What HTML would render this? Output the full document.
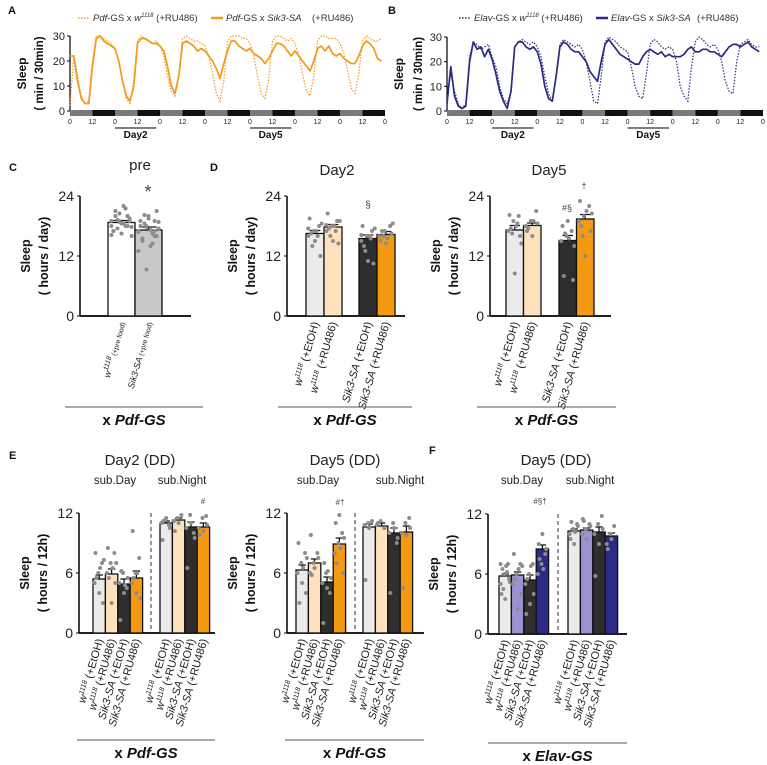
<!DOCTYPE html>
<html><head><meta charset="utf-8"><style>
html,body{margin:0;padding:0;background:#fff;}
svg{display:block;font-family:"Liberation Sans",Arial,sans-serif;}
</style></head><body>
<svg id="fig" width="767" height="765" viewBox="0 0 767 765" xmlns="http://www.w3.org/2000/svg">
<rect width="767" height="765" fill="#fff"/>
</svg>
<script>
// ---------- Panel A/B time series data (2h bins, 7 days) ----------
const hoursPerBin = 2;
const aControl = [2,22,14,6,3,4,20,30,30,29,28, 27,25,20,12,5,3,12,28,30,29,28,27, 28,26,22,14,8,6,14,29,30,29,28,28, 27,26,22,15,7,4,12,28,30,30,30,29, 29,27,22,14,7,5,13,28,30,30,29,28, 29,27,22,15,8,6,14,28,30,30,29,29, 29,27,23,16,9,7,15,28,30,29,28,28,29];
const aSik3 = [22,22,12,5,3,3,18,29,30,28,27, 26,25,20,12,6,4,10,27,29,29,28,27, 27,26,24,18,10,7,14,27,28,27,26,24, 25,24,22,20,17,13,19,24,28,28,26,25, 24,25,23,22,21,19,21,24,27,27,26,24, 22,24,22,20,18,16,20,25,26,24,26,23, 22,23,21,20,19,19,22,26,28,27,25,21,20];
const bControl = [8,15,8,3,1,3,22,28,27,25,26, 27,22,18,10,5,3,8,26,28,29,28,27, 28,26,22,14,7,4,14,27,29,28,27,26, 27,25,20,12,4,3,14,28,30,29,28,26, 25,24,18,10,6,5,15,27,29,28,26,25, 26,25,20,10,6,4,18,28,30,29,27,26, 27,25,20,12,8,7,20,27,28,29,27,26,26];
const bSik3 = [3,18,6,2,1,2,20,28,25,26,22, 25,21,15,8,4,1,8,26,28,28,26,25, 26,24,19,10,5,4,14,26,28,27,25,24, 24,22,20,16,14,12,20,27,29,27,25,23, 22,21,20,19,19,22,24,25,24,23,24,22, 23,22,22,22,23,25,26,24,24,25,25,24, 24,23,22,24,26,27,27,26,27,28,26,25,24];
const tsYTicks = [0,10,20,30];
const tsXTickLabels = ["0","12"];

// ---------- Bar panel data ----------
const cMeans = [18.7,17.2];
const cSem = [0.4,0.6];
const cDots = [[18,19,20,17,18.5,19.5,21,22,16,17.5,18,19,20.5,18,17,16.5,19,20,18.5,17.8,19.2,21.5,16.2,18.8,20],[17,18,16,19,20,21,15,14,17.5,18.5,16.5,13,9.3,17,18,19.5,16,15.5,17.2,18.8,20.2,14.5,16.8,17.8,19]];
const d2Means = [16.5,17.8,15.5,16.3];
const d2Sem = [0.6,0.5,0.7,0.6];
const d2Dots = [[16,17,18,19.5,15,12,16.5,17,18.5,14,16,17.5],[17,18,19,20.5,15,14.5,17.5,18,19,16,17,18.2],[15,16,17,18,11,10.5,14,16,17.5,13,15.5,16.2],[16,17,18,15,14.5,16.5,17,15.5,18.5,16]];
const d5Means = [17.2,18.1,15.1,19.4];
const d5Sem = [0.9,0.5,1.0,0.9];
const d5Dots = [[17,19,20,20.2,8.5,16,17.5,18,14.5,16.5,18.5],[18,19,21,17,16,18.5,17.5,19],[15,16,17,18,19,7.2,8,15.5,14,16.5],[19,20,22,23,12,17,18,21,20.5,16]];
const e2Means = [5.4,5.9,4.9,5.5,11.0,11.3,10.6,10.6];
const e2Sem = [0.4,0.5,0.5,0.7,0.2,0.2,0.5,0.4];
const e2Dots = [[5,6,7,8,4,3,5.5,6.5,7.3],[6,7,8,8.5,3,5,5.5,6.5,7],[5,6,4.5,1.3,4,5.5,6.2,4.8],[5,6,7.5,10.2,4,3.5,5.5,6],[11,11.3,10.8,9.3,11.5,10.5,11.2],[11.2,11.5,11.8,10.2,11],[10.5,11.8,10,6.5,11,9.5],[10.5,11.5,11.7,9.8,10.2,10.8]];
const e5Means = [6.3,7.0,5.1,8.9,10.6,10.7,10.0,10.1];
const e5Sem = [0.5,0.4,0.5,0.6,0.3,0.3,0.5,0.6];
const e5Dots = [[6,7,8,9,5,4,3,6.5,7.5],[6,7,8,9.8,6.5,7.5,5.8],[5,6,4,1,4.5,5.5,7,6.2],[8,9,10,11,11.8,6,7,8.5,9.5],[10.8,11,11.2,5.3,10.5],[10.8,11.2,10.5,11],[10,11,9,4,10.5,9.5],[10,11,11.5,4.5,9.8,10.5]];
const fMeans = [5.8,5.9,5.4,8.5,10.3,10.4,10.2,9.8];
const fSem = [0.2,0.3,0.5,0.4,0.2,0.2,0.5,0.3];
const fDots = [[5,6,7,4,3.5,5.5,6.5,6.8,5.2,4.5,6.2,7],[5,6,7,8,2.5,4,5.5,6.5,6.8],[5,6,7,2,3,4,5.5,6.8],[6,7,8,9,10,8.5,7.5,6.5],[10,10.5,11,9.5,9,10.8,11.2,10.2],[10,10.5,11,11.5,9.5,10.8,11.3],[10,11,11.8,5.8,9,10.5],[9,10,10.8,8.5,9.5]];
const dayTicks = [0,12,24];
const halfTicks = [0,6,12];

const NS = "http://www.w3.org/2000/svg";
const svg = document.getElementById('fig');
function el(tag, attrs, parent, text){
  const e = document.createElementNS(NS, tag);
  for (const k in attrs) e.setAttribute(k, attrs[k]);
  if (text !== undefined) e.textContent = text;
  (parent||svg).appendChild(e);
  return e;
}

[["A",8,14],["B",388,14],["C",9,171],["D",210,171],["E",9,459],["F",429,454]].forEach(p=>{
  const t = el('text',{x:p[1],y:p[2],'font-size':11,'font-weight':'bold',fill:'#111'},svg,p[0]);
  
  
});

function tsPanel(o){
  const g = el('g',{});
  
  
  const nBins = o.ctrl.length;
  const totalH = 168;
  const xs = h => o.x0 + h/totalH*(o.x1-o.x0);
  const ys = v => o.yb - v/30*(o.yb-o.yt);
  const ax = el('line',{x1:o.x0,y1:ys(30),x2:o.x0,y2:ys(0),stroke:'#000','stroke-width':1.2},g);
   
  tsYTicks.forEach(v=>{
    el('line',{x1:o.x0-3,y1:ys(v),x2:o.x0,y2:ys(v),stroke:'#000'},g);
    const t = el('text',{x:o.x0-5,y:ys(v)+4,'font-size':11,'text-anchor':'end',fill:'#222'},g,v);
     
  });
  const t1 = el('text',{transform:`translate(${o.tx1},${(o.yt+o.yb)/2}) rotate(-90)`,'font-size':12,'font-weight':'bold','text-anchor':'middle',fill:'#111'},g,'Sleep');
   
  const t2 = el('text',{transform:`translate(${o.tx2},${(o.yt+o.yb)/2}) rotate(-90)`,'font-size':11.5,'font-weight':'bold','text-anchor':'middle',fill:'#111'},g,'( min / 30min)');
   
  const days = totalH/24;
  for(let d=0; d<days; d++){
    const r1 = el('rect',{x:xs(d*24),y:o.yb-1,width:xs(12)-xs(0),height:6,fill:'#7a7a7a'},g);
     
    const r2 = el('rect',{x:xs(d*24+12),y:o.yb-1,width:xs(12)-xs(0),height:6,fill:'#111'},g);
     
    tsXTickLabels.forEach((lab,i)=>{
      const tt = el('text',{x:xs(d*24+i*12),y:o.yb+13,'font-size':7,'text-anchor':'middle',fill:'#222'},g,lab);
       
    });
  }
  const tl = el('text',{x:xs(totalH),y:o.yb+13,'font-size':7,'text-anchor':'middle',fill:'#222'},g,'0');
   
  [[1,'Day2'],[4,'Day5']].forEach(dm=>{
    const a = xs(dm[0]*24), b = xs(dm[0]*24+22);
    el('line',{x1:a,y1:o.yb+17,x2:b,y2:o.yb+17,stroke:'#000','stroke-width':1},g);
    const dt = el('text',{x:(a+b)/2,y:o.yb+27,'font-size':10,'font-weight':'bold','text-anchor':'middle',fill:'#111'},g,dm[1]);
     
  });
  const mk = arr => arr.map((v,i)=>`${i?'L':'M'}${xs(Math.min(i*hoursPerBin,totalH)).toFixed(1)},${ys(v).toFixed(1)}`).join('');
  const p1 = el('path',{d:mk(o.ctrl),fill:'none',stroke:o.color,'stroke-width':1.2,'stroke-dasharray':'1.5 1.5'},g);
   
  const p2 = el('path',{d:mk(o.sik),fill:'none',stroke:o.color,'stroke-width':1.7,'stroke-linejoin':'round'},g);
   
  const lg = el('g',{},g);
   
  const ly = 21;
  el('line',{x1:o.lx,y1:ly-3,x2:o.lx+12,y2:ly-3,stroke:o.color,'stroke-width':1.5,'stroke-dasharray':'1.5 1.5'},lg);
  const le1 = el('text',{x:o.lx+15,y:ly,'font-size':9.5,fill:'#333'},lg);
   
  el('tspan',{'font-style':'italic'},le1,o.drv);
  el('tspan',{},le1,'-GS x ');
  el('tspan',{'font-style':'italic'},le1,'w');
  el('tspan',{'font-size':6,dy:-4,'font-style':'italic'},le1,'1118');
  el('tspan',{dy:4},le1,' (+RU486)');
  el('line',{x1:o.lx2,y1:ly-3,x2:o.lx2+12,y2:ly-3,stroke:o.color,'stroke-width':2.5},lg);
  const le2 = el('text',{x:o.lx2+15,y:ly,'font-size':9.5,fill:'#333'},lg);
   
  el('tspan',{'font-style':'italic'},le2,o.drv);
  el('tspan',{},le2,'-GS x ');
  el('tspan',{'font-style':'italic'},le2,'Sik3-SA');
  el('text',{x:o.lx3,y:ly,'font-size':9.5,fill:'#333'},lg,'(+RU486)');
}
tsPanel({name:'panel-a-pdf-sleep-profile',ctrl:aControl,sik:aSik3,color:'#f29a1c',x0:70,x1:385,yt:36,yb:111,tx1:26,tx2:43,drv:'Pdf',lx:78,lx2:211,lx3:312});
tsPanel({name:'panel-b-elav-sleep-profile',ctrl:bControl,sik:bSik3,color:'#2d2a82',x0:447,x1:763,yt:37,yb:111,tx1:403,tx2:422,drv:'Elav',lx:459,lx2:596,lx3:697});

function labelText(parent, x, y, geno, treat, small){
  const t = el('text',{transform:`translate(${x},${y}) rotate(-74)`,'font-size':small?9:11,'text-anchor':'end',fill:'#222'},parent);
   
  if(geno==='w'){
    el('tspan',{'font-style':'italic'},t,'w');
    el('tspan',{'font-size':7,dy:-4,'font-style':'italic'},t,'1118');
    el('tspan',{dy:4,'font-size':small?7:11},t,' '+treat);
  } else {
    el('tspan',{'font-style':'italic'},t,'Sik3-SA');
    el('tspan',{'font-size':small?7:11},t,' '+treat);
  }
}
function barPanel(o){
  const g = el('g',{});
  
  
  const maxV = o.ticks[o.ticks.length-1];
  const ys = v => o.yb - v/maxV*(o.yb-o.yt);
  const ti = el('text',{x:o.titleX,y:o.titleY,'font-size':15,'text-anchor':'middle',fill:'#222'},g,o.title);
   
  if(o.sub){
    o.sub.forEach(s=>{
      const st = el('text',{x:s[0],y:o.titleY+19,'font-size':11.5,'text-anchor':'middle',fill:'#222'},g,s[1]);
       
    });
  }
  const yax = el('line',{x1:o.ax,y1:o.yt,x2:o.ax,y2:o.yb,stroke:'#000','stroke-width':1.5},g);
   
  const xax = el('line',{x1:o.ax,y1:o.yb,x2:o.axEnd,y2:o.yb,stroke:'#000','stroke-width':1.8},g);
   
  o.ticks.forEach(v=>{
    el('line',{x1:o.ax-3,y1:ys(v),x2:o.ax,y2:ys(v),stroke:'#000'},g);
    const t = el('text',{x:o.ax-6,y:ys(v)+5,'font-size':14,'text-anchor':'end',fill:'#222'},g,v);
     
  });
  const ym = (o.yt+o.yb)/2;
  const yt1 = el('text',{transform:`translate(${o.ax-50},${ym}) rotate(-90)`,'font-size':12.5,'font-weight':'bold','text-anchor':'middle',fill:'#111'},g,'Sleep');
   
  const yt2 = el('text',{transform:`translate(${o.ax-32},${ym}) rotate(-90)`,'font-size':12.5,'font-weight':'bold','text-anchor':'middle',fill:'#111'},g,o.unit);
   
  if(o.dash){
    const dl = el('line',{x1:o.dash,y1:o.yt,x2:o.dash,y2:o.yb,stroke:'#333','stroke-width':1,'stroke-dasharray':'4 3'},g);
     
  }
  o.means.forEach((m,i)=>{
    const gi = Math.floor(i/o.perGroup), k = i%o.perGroup;
    const x = o.groupX[gi] + k*o.bw;
    const r = el('rect',{x:x,y:ys(m),width:o.bw,height:o.yb-ys(m),fill:o.colors[i],stroke:'#111','stroke-width':1.3},g);
    
    
    const cx = x+o.bw/2;
    const eb = el('path',{d:`M${cx},${ys(m)}V${ys(m+o.sem[i])}M${cx-o.bw*0.3},${ys(m+o.sem[i])}H${cx+o.bw*0.3}`,stroke:'#111','stroke-width':1.3,fill:'none'},g);
     
    o.dots[i].forEach((v,j)=>{
      const jit = ((j*37)%11/10-0.5)*o.bw*0.75;
      const d = el('circle',{cx:cx+jit,cy:ys(v),r:2,fill:'#8c8c8c'},g);
      
      
    });
    const lab = o.labels[i];
    labelText(g, cx+4, o.yb+7, lab[0], lab[1], o.small);
  });
  (o.marks||[]).forEach(mk=>{
    const t = el('text',{x:mk[0],y:mk[1],'font-size':mk[3]||9,'text-anchor':'middle',fill:'#444'},g,mk[2]);
     
  });
  const ul = el('line',{x1:o.ul[0],y1:o.ul[2],x2:o.ul[1],y2:o.ul[2],stroke:'#555','stroke-width':1},g);
   
  const gl = el('text',{x:(o.ul[0]+o.ul[1])/2,y:o.ul[2]+18,'font-size':15,'font-weight':'bold','text-anchor':'middle',fill:'#111'},g);
   
  el('tspan',{},gl,'x ');
  el('tspan',{'font-style':'italic'},gl,o.driver);
}
const L4 = [['w','(+EtOH)'],['w','(+RU486)'],['s','(+EtOH)'],['s','(+RU486)']];
const orangeCols = ['#ebebeb','#fde2bd','#2e2e2e','#f39a12'];
const blueCols = ['#ebebeb','#9b92d2','#2e2e2e','#2c2a88'];
barPanel({name:'panel-c-pre',title:'pre',titleX:140,titleY:170,ax:80,axEnd:191,yt:196,yb:316,ticks:dayTicks,unit:'( hours / day)',
  means:cMeans,sem:cSem,dots:cDots,perGroup:2,groupX:[108],bw:27,colors:['#ffffff','#c8c8c8'],
  labels:[['w','(+pre food)'],['s','(+pre food)']],small:true,marks:[[148,198,'*',18]],ul:[65,203,407],driver:'Pdf-GS'});
barPanel({name:'panel-d-day2',title:'Day2',titleX:337,titleY:175,ax:287,axEnd:405,yt:196,yb:316,ticks:dayTicks,unit:'( hours / day)',
  means:d2Means,sem:d2Sem,dots:d2Dots,perGroup:2,groupX:[306,359],bw:18,colors:orangeCols,
  labels:L4,marks:[[368,208,'§',10]],ul:[278,412,407],driver:'Pdf-GS'});
barPanel({name:'panel-d-day5',title:'Day5',titleX:549,titleY:175,ax:490,axEnd:611,yt:196,yb:316,ticks:dayTicks,unit:'( hours / day)',
  means:d5Means,sem:d5Sem,dots:d5Dots,perGroup:2,groupX:[506,559],bw:17.5,colors:orangeCols,
  labels:L4,marks:[[567,211,'#§',9],[584,189,'†',9]],ul:[477,616,407],driver:'Pdf-GS'});
barPanel({name:'panel-e-day2-dd',title:'Day2 (DD)',titleX:140,titleY:465,sub:[[115,'sub.Day'],[182,'sub.Night']],ax:79,axEnd:215,yt:513,yb:633,ticks:halfTicks,unit:'( hours / 12h)',
  means:e2Means,sem:e2Sem,dots:e2Dots,perGroup:4,groupX:[93,160],bw:12.4,colors:orangeCols.concat(orangeCols),
  labels:L4.concat(L4),dash:151,marks:[[203,504,'#',8]],ul:[77,215,740],driver:'Pdf-GS'});
barPanel({name:'panel-e-day5-dd',title:'Day5 (DD)',titleX:345,titleY:465,sub:[[318,'sub.Day'],[400,'sub.Night']],ax:287,axEnd:424,yt:513,yb:633,ticks:halfTicks,unit:'( hours / 12h)',
  means:e5Means,sem:e5Sem,dots:e5Dots,perGroup:4,groupX:[296,363],bw:12.4,colors:orangeCols.concat(orangeCols),
  labels:L4.concat(L4),dash:355,marks:[[340,505,'#†',8]],ul:[285,424,740],driver:'Pdf-GS'});
barPanel({name:'panel-f-elav-day5-dd',title:'Day5 (DD)',titleX:556,titleY:465,sub:[[522,'sub.Day'],[590,'sub.Night']],ax:488,axEnd:627,yt:514,yb:634,ticks:halfTicks,unit:'( hours / 12h)',
  means:fMeans,sem:fSem,dots:fDots,perGroup:4,groupX:[499,568],bw:12.4,colors:blueCols.concat(blueCols),
  labels:L4.concat(L4),dash:558,marks:[[540,504,'#§†',8]],ul:[488,627,743],driver:'Elav-GS'});
</script>
</body></html>
